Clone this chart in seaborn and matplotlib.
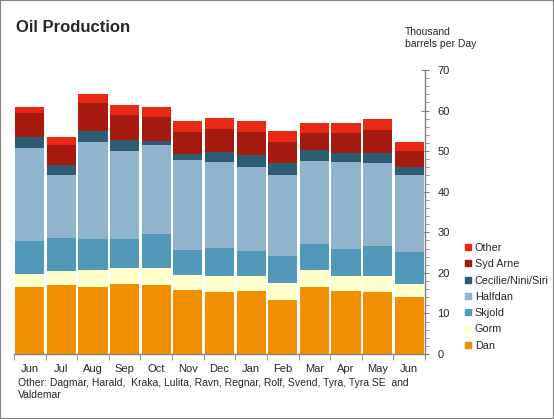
import numpy as np
import pandas as pd
import seaborn as sns
import matplotlib.pyplot as plt
from matplotlib.patches import Rectangle
from matplotlib.lines import Line2D
from matplotlib.ticker import MultipleLocator

# dados (mil barris por dia)
months = ['Jun', 'Jul', 'Aug', 'Sep', 'Oct', 'Nov', 'Dec', 'Jan', 'Feb', 'Mar', 'Apr', 'May', 'Jun ']
dan = [16.5, 17.0, 16.5, 17.25, 17.0, 15.8, 15.3, 15.5, 13.3, 16.5, 15.5, 15.3, 14.0]
gorm = [3.2, 3.5, 4.2, 3.95, 4.2, 3.7, 3.9, 3.7, 4.2, 4.2, 3.7, 3.9, 3.25]
skjold = [8.15, 8.1, 7.6, 7.1, 8.4, 6.1, 6.9, 6.2, 6.7, 6.4, 6.7, 7.4, 7.85]
halfdan = [22.95, 15.5, 24.0, 21.7, 21.9, 22.2, 21.2, 20.7, 19.9, 20.5, 21.4, 20.5, 19.0]
cecilie = [2.7, 2.5, 2.7, 2.7, 1.0, 1.5, 2.5, 2.9, 3.0, 2.7, 2.2, 2.4, 2.0]
syd_arne = [5.9, 4.9, 6.9, 6.2, 5.9, 5.4, 5.7, 5.7, 5.2, 4.2, 5.0, 5.7, 3.9]
other = [1.5, 2.0, 2.2, 2.5, 2.5, 2.7, 2.7, 2.7, 2.7, 2.4, 2.4, 2.7, 2.3]

fields = ['Dan', 'Gorm', 'Skjold', 'Halfdan', 'Cecilie/Nini/Siri', 'Syd Arne', 'Other']
colors = ['#F08F00', '#FFFFCC', '#5298B8', '#8FB4CC', '#2E5C73', '#A61B10', '#E82916']

df = pd.DataFrame(dict(zip(fields, [dan, gorm, skjold, halfdan, cecilie, syd_arne, other])))
cum = df[fields].cumsum(axis=1)
cum['Month'] = months

sns.set_style('white')
plt.rcParams['font.family'] = ['Liberation Sans', 'DejaVu Sans']

fig = plt.figure(figsize=(5.54, 4.19), dpi=100)
ax = fig.add_axes([14 / 554, 65 / 419, 411 / 554, 284 / 419])

# barras empilhadas: desenha do topo para a base
for name, col in zip(fields[::-1], colors[::-1]):
    sns.barplot(data=cum, x='Month', y=name, color=col, width=0.92,
                saturation=1, edgecolor='none', linewidth=0, ax=ax)

ax.set_ylim(0, 70)
ax.set_xlim(-0.5, len(months) - 0.5)
ax.set_xlabel('')
ax.set_ylabel('')

grey = '#808080'
for s in ['top', 'left']:
    ax.spines[s].set_visible(False)
for s in ['right', 'bottom']:
    ax.spines[s].set_color(grey)
    ax.spines[s].set_linewidth(1)

ax.yaxis.tick_right()
ax.yaxis.set_major_locator(MultipleLocator(10))
ax.yaxis.set_minor_locator(MultipleLocator(2))
ax.tick_params(axis='y', which='major', direction='inout', length=6, color=grey,
               labelsize=8, pad=6, right=True, left=False)
ax.tick_params(axis='y', which='minor', direction='out', length=3, color=grey,
               right=True, left=False)

# ticks do eixo x nas fronteiras das categorias
ax.set_xticks(np.arange(len(months)))
ax.set_xticklabels([m.strip() for m in months], fontsize=8)
ax.tick_params(axis='x', which='major', length=0, pad=7)
ax.set_xticks(np.arange(len(months) + 1) - 0.5, minor=True)
ax.tick_params(axis='x', which='minor', direction='out', length=4, color=grey, bottom=True)

fig.text(16 / 554, 1 - 28 / 419, 'Oil Production', fontsize=12, fontweight='bold', va='center')
fig.text(405 / 554, 1 - 38 / 419, 'Thousand\nbarrels per Day', fontsize=7.5, va='center',
         linespacing=1.3)
fig.text(18 / 554, 1 - 389 / 419,
         'Other: Dagmar, Harald,  Kraka, Lulita, Ravn, Regnar, Rolf, Svend, Tyra, Tyra SE  and\nValdemar',
         fontsize=7.5, va='center', linespacing=1.3)

hs = [Line2D([], [], marker='s', linestyle='none', markersize=5, color=c) for c in colors[::-1]]
fig.legend(hs, fields[::-1], loc='upper left', bbox_to_anchor=(463 / 554, 1 - 243 / 419),
           frameon=False, fontsize=7.8, handletextpad=0.1, labelspacing=0.58,
           handlelength=1, borderaxespad=0, borderpad=0)

fig.patches.append(Rectangle((0, 0), 1, 1, transform=fig.transFigure, fill=False,
                             edgecolor=grey, linewidth=1.5))

plt.savefig('out.png', dpi=100)
